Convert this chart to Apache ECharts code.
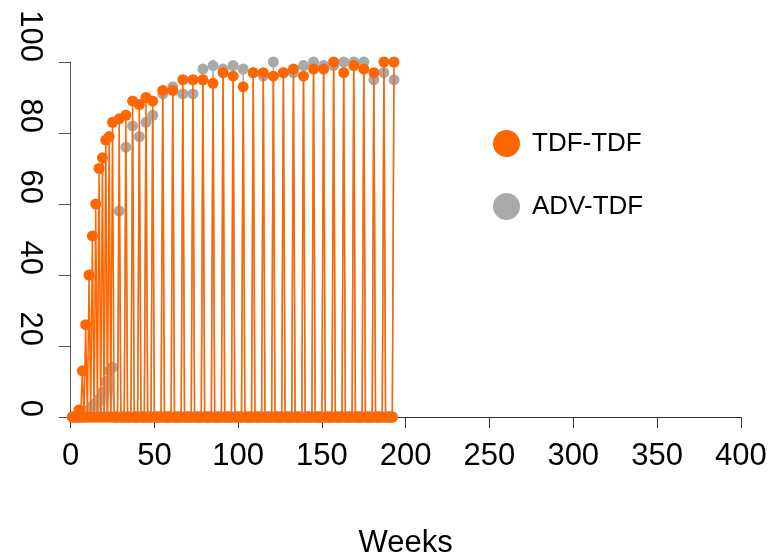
<!DOCTYPE html>
<html>
<head>
<meta charset="utf-8">
<script src="https://cdn.jsdelivr.net/npm/echarts@6/dist/echarts.min.js"></script>
<style>html,body{margin:0;padding:0;background:#fff}#c{width:772px;height:554px}</style>
</head>
<body>
<div id="c"></div>
<script>
// measurement weeks (all other weeks in the range are 0)
const weeks = [5,7,9,11,13,15,17,19,21,23,25,29,33,37,41,45,49,55,61,67,73,79,85,91,97,103,109,115,121,127,133,139,145,151,157,163,169,175,181,187,193];
const tdfTdf = [2,13,26,40,51,60,70,73,78,79,83,84,85,89,88,90,89,92,92,95,95,95,94,97,96,93,97,97,96,97,98,96,98,98,100,97,99,98,97,100,100];
const advTdf = [0,0,1,2,3,4,5,7,10,13,14,58,76,82,79,83,85,91,93,91,91,98,99,98,99,98,97,96,100,97,97,99,100,99,99,100,100,100,95,97,95];
const firstWeek = 1;
const lastWeek = 193;
const xTicks = [0,50,100,150,200,250,300,350,400];
const yTicks = [0,20,40,60,80,100];
const seriesNames = ['TDF-TDF','ADV-TDF'];

function weekly(vals){
  const m = {};
  weeks.forEach((w,i)=>{ m[w] = vals[i]; });
  const out = [];
  for (let w = firstWeek; w <= lastWeek; w++) out.push([w, m[w] !== undefined ? m[w] : 0]);
  return out;
}

const FONT = 'Liberation Sans, Arial, sans-serif';
const chart = echarts.init(document.getElementById('c'), null, {renderer:'canvas'});
chart.setOption({
  animation: false,
  backgroundColor: '#fff',
  grid: {left: 70.6, right: 31.2, top: 62, bottom: 137, containLabel: false, outerBoundsMode: 'none'},
  legend: {
    orient: 'vertical', left: 488, top: 125,
    icon: 'circle', itemWidth: 27, itemHeight: 27, itemGap: 36, itemTextGap: 13,
    textStyle: {fontSize: 26, color: '#000', fontFamily: FONT, padding: [0, 0, 0, 7]},
    data: [seriesNames[0], seriesNames[1]]
  },
  xAxis: {
    type: 'value', min: xTicks[0], max: xTicks[xTicks.length-1], interval: 50,
    name: 'Weeks', nameLocation: 'middle', nameGap: 111,
    nameTextStyle: {fontSize: 31, color: '#000', fontFamily: FONT},
    axisLine: {show: true, onZero: false, lineStyle: {color: '#333', width: 1}},
    axisTick: {show: true, length: 11, lineStyle: {color: '#333'}},
    axisLabel: {fontSize: 31, color: '#000', fontFamily: FONT, margin: 24},
    splitLine: {show: false}
  },
  yAxis: {
    type: 'value', min: yTicks[0], max: yTicks[yTicks.length-1], interval: 20,
    axisLine: {show: true, lineStyle: {color: '#555', width: 1}},
    axisTick: {show: true, length: 12, lineStyle: {color: '#555'}},
    axisLabel: {fontSize: 31, color: '#000', fontFamily: FONT, rotate: -90, align: 'right', verticalAlign: 'middle', margin: 41},
    splitLine: {show: false}
  },
  series: [
    {
      name: seriesNames[1], type: 'line', data: weekly(advTdf),
      symbol: 'circle', symbolSize: 11, showAllSymbol: true, clip: false,
      color: '#A9A9A9',
      itemStyle: {color: '#A9A9A9'},
      lineStyle: {color: '#A9A9A9', width: 1.5},
      z: 2
    },
    {
      name: seriesNames[0], type: 'line', data: weekly(tdfTdf),
      symbol: 'circle', symbolSize: 11, showAllSymbol: true, clip: false,
      color: '#FF6600',
      itemStyle: {color: '#FF6600'},
      lineStyle: {color: '#FF6600', width: 1.5},
      z: 3
    }
  ]
});
</script>
</body>
</html>
